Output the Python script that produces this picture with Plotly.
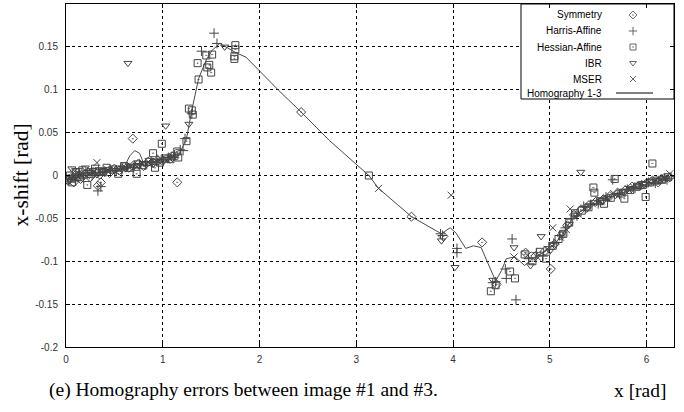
import plotly.graph_objects as go

# ---------------- data ----------------
line_x = [0.0, 0.14, 0.35, 0.50, 0.61, 0.66, 0.71, 0.76, 0.80, 0.92, 1.07, 1.15, 1.20, 1.245,
          1.30, 1.37, 1.45, 1.51, 1.59, 1.67, 1.76, 1.86, 1.965, 2.20, 2.43, 2.72, 3.13, 3.23,
          3.57, 3.88, 3.97, 4.03, 4.13, 4.21, 4.29, 4.36, 4.44, 4.50, 4.55, 4.64, 4.74, 4.80,
          4.90, 5.00, 5.08, 5.15, 5.22, 5.30, 5.40, 5.50, 5.60, 5.70, 5.80, 5.90, 6.00, 6.10,
          6.20, 6.28]
line_y = [-0.0035, -0.001, 0.0035, 0.006, 0.012, 0.023, 0.029, 0.026, 0.015, 0.015, 0.020, 0.021,
          0.032, 0.043, 0.076, 0.113, 0.135, 0.146, 0.154, 0.149, 0.143, 0.138, 0.126, 0.099,
          0.074, 0.041, 0.0, -0.015, -0.048, -0.068, -0.061, -0.067, -0.085, -0.082, -0.084,
          -0.102, -0.123, -0.111, -0.097, -0.095, -0.105, -0.099, -0.092, -0.085, -0.076,
          -0.065, -0.052, -0.043, -0.036, -0.031, -0.027, -0.022, -0.018, -0.014, -0.010,
          -0.007, -0.004, -0.003]

sym_x = [0.02, 0.05, 0.08, 0.12, 0.15, 0.20, 0.25, 0.30, 0.33, 0.35, 0.36, 0.40, 0.45, 0.50, 0.55,
         0.60, 0.65, 0.69, 0.70, 0.75, 0.80, 0.85, 0.90, 0.95, 1.00, 1.05, 1.10, 1.15, 2.43, 3.57,
         3.90, 4.30, 4.45, 4.75, 4.85, 4.95, 5.01, 5.05, 5.12, 5.18, 5.25, 5.32, 5.40, 5.48, 5.55,
         5.62, 5.70, 5.78, 5.85, 5.92, 6.00, 6.06, 6.12, 6.18, 6.24]
sym_y = [-0.006, -0.003, -0.008, 0.0, -0.004, 0.002, -0.002, 0.004, -0.012, 0.001, -0.008, 0.005,
         0.003, 0.008, 0.006, 0.010, 0.009, 0.043, 0.012, 0.014, 0.011, 0.016, 0.015, 0.018, 0.017,
         0.020, 0.022, -0.008, 0.074, -0.048, -0.071, -0.078, -0.127, -0.090, -0.094, -0.088,
         -0.109, -0.080, -0.070, -0.058, -0.046, -0.040, -0.035, -0.030, -0.028, -0.024, -0.020,
         -0.017, -0.013, -0.012, -0.009, -0.006, -0.008, -0.003, -0.002]

har_x = [0.03, 0.07, 0.10, 0.14, 0.18, 0.22, 0.27, 0.33, 0.36, 0.40, 0.46, 0.52, 0.58, 0.63, 0.70,
         0.76, 0.82, 0.88, 0.94, 1.00, 1.06, 1.12, 1.18, 1.21, 1.23, 1.30, 1.40, 1.53, 1.56, 3.87,
         3.89, 4.04, 4.04, 4.41, 4.44, 4.54, 4.55, 4.61, 4.65, 4.78, 4.86, 4.93, 4.99, 5.04, 5.10,
         5.16, 5.22, 5.28, 5.35, 5.42, 5.50, 5.58, 5.65, 5.72, 5.80, 5.88, 5.95, 6.02, 6.09, 6.15,
         6.21]
har_y = [-0.004, -0.002, -0.006, 0.001, -0.003, 0.003, 0.0, -0.018, -0.013, 0.004, 0.006, 0.005,
         0.008, 0.010, 0.009, 0.013, 0.012, 0.016, 0.019, 0.018, 0.021, 0.024, 0.030, 0.029, 0.043,
         0.072, 0.145, 0.166, 0.154, -0.068, -0.070, -0.085, -0.090, -0.125, -0.124, -0.109,
         -0.120, -0.074, -0.145, -0.097, -0.090, -0.094, -0.083, -0.079, -0.070, -0.061, -0.050,
         -0.047, -0.036, -0.034, -0.033, -0.025, -0.005, -0.022, -0.016, -0.015, -0.011, -0.008,
         -0.009, -0.004, -0.005]

hes_x = [0.01, 0.04, 0.06, 0.10, 0.13, 0.17, 0.22, 0.26, 0.30, 0.34, 0.38, 0.42, 0.48, 0.54, 0.60,
         0.66, 0.73, 0.74, 0.80, 0.86, 0.90, 0.92, 0.97, 0.99, 1.02, 1.08, 1.12, 1.15, 1.16, 1.245,
         1.27, 1.30, 1.31, 1.36, 1.37, 1.45, 1.46, 1.48, 1.50, 1.51, 1.74, 1.74, 1.75, 1.75, 3.13,
         4.39, 4.44, 4.59, 4.64, 4.74, 4.82, 4.90, 4.96, 5.03, 5.09, 5.14, 5.20, 5.26, 5.33, 5.40,
         5.45, 5.46, 5.52, 5.56, 5.63, 5.67, 5.74, 5.77, 5.83, 5.90, 5.96, 5.99, 6.04, 6.06, 6.10,
         6.16, 6.22]
hes_y = [-0.005, 0.0, -0.008, 0.004, -0.002, 0.006, -0.011, 0.002, 0.008, 0.005, 0.004, 0.009,
         0.007, 0.002, 0.011, 0.009, 0.002, 0.013, 0.012, 0.016, 0.026, 0.009, 0.015, 0.037, 0.020,
         0.019, 0.023, 0.028, 0.021, 0.040, 0.078, 0.076, 0.071, 0.131, 0.112, 0.140, 0.126, 0.129,
         0.120, 0.141, 0.139, 0.136, 0.152, 0.147, 0.0, -0.135, -0.128, -0.112, -0.120, -0.092,
         -0.100, -0.089, -0.097, -0.082, -0.074, -0.068, -0.055, -0.044, -0.041, -0.037, -0.014,
         -0.020, -0.030, -0.033, -0.026, -0.004, -0.021, -0.027, -0.017, -0.013, -0.011, -0.025,
         -0.008, 0.014, -0.006, -0.005, -0.002]

ibr_x = [0.02, 0.06, 0.09, 0.13, 0.16, 0.20, 0.24, 0.28, 0.32, 0.37, 0.43, 0.50, 0.56, 0.62, 0.64,
         0.68, 0.75, 0.82, 0.90, 0.97, 1.03, 1.10, 1.27, 1.64, 3.88, 4.02, 4.41, 4.63, 4.80, 4.91,
         5.00, 5.06, 5.13, 5.20, 5.27, 5.32, 5.38, 5.46, 5.54, 5.60, 5.68, 5.76, 5.84, 5.91, 5.98,
         6.05, 6.13, 6.20]
ibr_y = [-0.002, 0.008, -0.004, 0.006, 0.002, 0.009, 0.004, 0.006, 0.001, 0.005, 0.007, 0.006,
         0.009, 0.008, 0.131, 0.010, 0.012, 0.014, 0.013, 0.017, 0.058, 0.020, 0.060, 0.150, -0.076,
         -0.107, -0.122, -0.084, -0.105, -0.071, -0.088, -0.080, -0.068, -0.057, -0.046, 0.004,
         -0.039, -0.031, -0.029, -0.026, -0.023, -0.018, -0.016, -0.012, -0.010, -0.007, -0.006,
         -0.003]

mse_x = [0.01, 0.05, 0.09, 0.12, 0.16, 0.21, 0.25, 0.29, 0.32, 0.38, 0.44, 0.49, 0.55, 0.61, 0.67,
         0.73, 0.79, 0.85, 0.92, 0.98, 1.04, 1.10, 3.23, 3.98, 4.63, 4.77, 4.87, 4.97, 5.03, 5.11,
         5.17, 5.21, 5.29, 5.36, 5.44, 5.51, 5.59, 5.66, 5.73, 5.81, 5.87, 5.94, 6.01, 6.08, 6.14,
         6.19, 6.24]
mse_y = [-0.007, -0.003, 0.005, -0.001, 0.003, 0.0, 0.006, 0.004, 0.015, 0.003, 0.006, 0.008,
         0.007, 0.010, 0.011, 0.010, 0.014, 0.016, 0.015, 0.019, 0.018, 0.022, -0.015, -0.023,
         -0.095, -0.093, -0.095, -0.086, -0.061, -0.072, -0.063, -0.039, -0.045, -0.038, -0.033,
         -0.030, -0.026, -0.021, -0.020, -0.016, -0.014, -0.011, -0.009, -0.006, -0.005, -0.004,
         0.002]

x_ticks = [0, 1, 2, 3, 4, 5, 6]
x_tick_text = ["0", "1", "2", "3", "4", "5", "6"]
y_ticks = [0.2, 0.15, 0.1, 0.05, 0, -0.05, -0.1, -0.15, -0.2]
y_tick_text = ["0.2", "0.15", "0.1", "0.05", "0", "-0.05", "-0.1", "-0.15", "-0.2"]

series = [
    ("Symmetry", sym_x, sym_y, "diamond-open-dot"),
    ("Harris-Affine", har_x, har_y, "cross-thin-open"),
    ("Hessian-Affine", hes_x, hes_y, "square-open-dot"),
    ("IBR", ibr_x, ibr_y, "triangle-down-open"),
    ("MSER", mse_x, mse_y, "x-thin-open"),
]
line_name = "Homography 1-3"

# ---------------- figure ----------------
W, H = 684, 412
L, R, T, B = 66, 10, 4, 65
MARK_COL = "#454545"
MSIZE = 7

fig = go.Figure()
for name, xs, ys, sym in series:
    fig.add_trace(go.Scatter(
        x=xs, y=ys, mode="markers", name=name, showlegend=False,
        marker=dict(symbol=sym, size=MSIZE, color=MARK_COL, line=dict(width=1, color=MARK_COL)),
    ))
fig.add_trace(go.Scatter(x=line_x, y=line_y, mode="lines", name=line_name, showlegend=False,
                         line=dict(color="#4a4a4a", width=1)))

# ---- custom legend (box in the top-right, symbols right of labels) ----
pw = W - L - R
ph = H - T - B
def px_x(p):
    return (p - L) / pw
def px_y(p):
    return (H - B - p) / ph

leg_rows_px = [15, 31, 47, 63, 79, 93]
leg_names = [s[0] for s in series] + [line_name]
bx0, bx1, by0, by1 = px_x(521), 1.0, px_y(99), 1.0
# opaque legend box drawn as a filled trace on an overlay axis (covers the grid)
fig.add_trace(go.Scatter(
    x=[bx0, bx1, bx1, bx0, bx0], y=[by0, by0, by1, by1, by0], xaxis="x2", yaxis="y2",
    mode="lines", fill="toself", fillcolor="white", line=dict(color="black", width=1),
    showlegend=False, hoverinfo="skip"))
for i, nm in enumerate(leg_names):
    fig.add_annotation(xref="paper", yref="paper", x=px_x(604), y=px_y(leg_rows_px[i]),
                       text=nm, showarrow=False, xanchor="right", yanchor="middle",
                       font=dict(family="Liberation Sans, Arial", size=10, color="black"))
for i, (name, xs, ys, sym) in enumerate(series):
    fig.add_trace(go.Scatter(
        x=[px_x(633)], y=[px_y(leg_rows_px[i])], xaxis="x2", yaxis="y2", mode="markers",
        showlegend=False, hoverinfo="skip",
        marker=dict(symbol=sym, size=6, color="#666", line=dict(width=1, color="#666")),
    ))
fig.add_trace(go.Scatter(
    x=[px_x(616), px_x(653)], y=[px_y(leg_rows_px[5])] * 2, xaxis="x2", yaxis="y2",
    mode="lines", showlegend=False, hoverinfo="skip", line=dict(color="black", width=1)))

axis_common = dict(
    showline=True, linecolor="black", linewidth=1, mirror="ticks",
    ticks="inside", ticklen=4, tickcolor="black",
    showgrid=True, gridcolor="black", gridwidth=1, griddash="3px,3px",
    zeroline=False,
    tickfont=dict(family="Liberation Sans, Arial", size=10, color="#333"),
)
fig.update_layout(
    width=W, height=H,
    margin=dict(l=L, r=R, t=T, b=B),
    paper_bgcolor="white", plot_bgcolor="white",
    xaxis=dict(range=[0, 6.283], tickvals=x_ticks, ticktext=x_tick_text,
               ticklabelstandoff=3, **axis_common),
    yaxis=dict(range=[-0.2, 0.2], tickvals=y_ticks, ticktext=y_tick_text,
               ticklabelstandoff=5, **axis_common),
    xaxis2=dict(overlaying="x", range=[0, 1], visible=False, domain=[0, 1]),
    yaxis2=dict(overlaying="y", range=[0, 1], visible=False, domain=[0, 1]),
    showlegend=False,
)

SERIF = "Liberation Serif, Times New Roman"
fig.add_annotation(xref="paper", yref="paper", x=px_x(20), y=0.5, text="x-shift [rad]",
                   textangle=-90, showarrow=False, xanchor="center", yanchor="middle",
                   font=dict(family=SERIF, size=21.5, color="black"))
fig.add_annotation(xref="paper", yref="paper", x=px_x(47), y=px_y(390),
                   text="(e) Homography errors between image #1 and #3.",
                   showarrow=False, xanchor="left", yanchor="middle",
                   font=dict(family=SERIF, size=19.5, color="black"))
fig.add_annotation(xref="paper", yref="paper", x=px_x(669), y=px_y(390), text="x [rad]",
                   showarrow=False, xanchor="right", yanchor="middle",
                   font=dict(family=SERIF, size=19.5, color="black"))

fig.write_html("out.html")
